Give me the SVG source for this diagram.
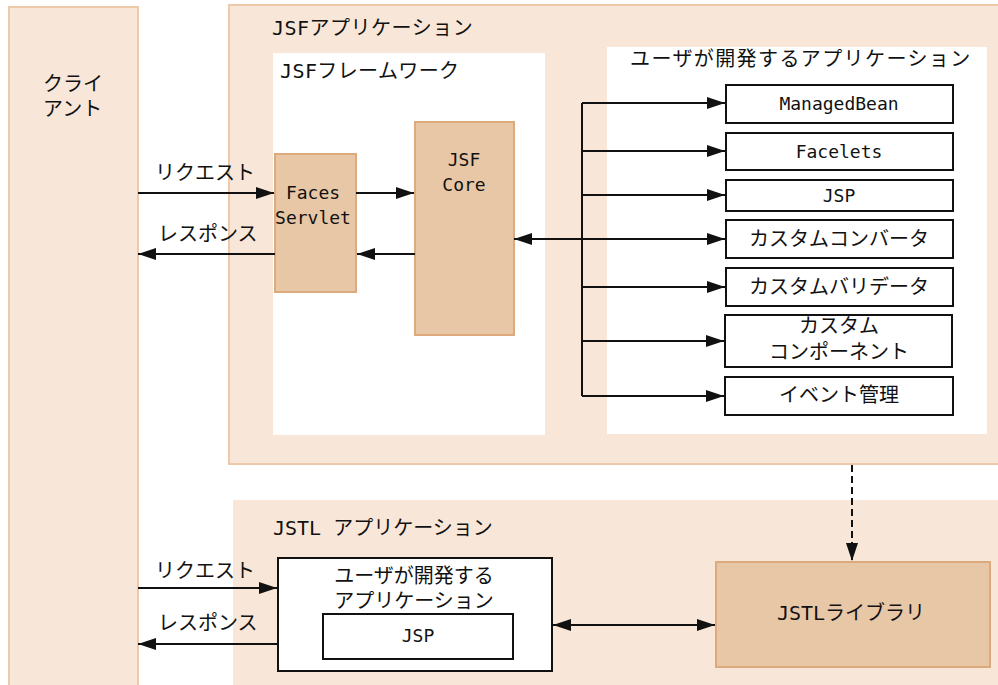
<svg xmlns="http://www.w3.org/2000/svg" width="998" height="685" viewBox="0 0 998 685">
<defs>
<style>
.area{fill:#f8e7d8;stroke:#ecc9a8;stroke-width:2}
.areaNs{fill:#f8e7d8;stroke:none}
.white{fill:#ffffff;stroke:none}
.dark{fill:#e8c7a7;stroke:#dcaa7c;stroke-width:2}
.box{fill:#ffffff;stroke:#111111;stroke-width:2}
.t{font-family:"DejaVu Sans Mono","Noto Sans CJK JP",monospace;font-size:20px;fill:#111111}
.l{font-family:"DejaVu Sans Mono","Noto Sans CJK JP",monospace;font-size:18px;fill:#111111}
.m{text-anchor:middle}
.c{fill:none;stroke:#111111;stroke-width:2}
.d{fill:none;stroke:#111111;stroke-width:2;stroke-dasharray:7 4}
</style>
<marker id="ah" markerUnits="userSpaceOnUse" markerWidth="18" markerHeight="12" refX="18" refY="6" orient="auto-start-reverse">
<path d="M0,0 L18,6 L0,12 z" fill="#111111"/>
</marker>
</defs>

<g id="client">
<rect class="area" x="9" y="7" width="129" height="690"/>
<text class="t" x="43" y="91">クライ</text>
<text class="t" x="43" y="116">アント</text>
</g>

<g id="jsf-application">
<rect class="area" x="229" y="5" width="780" height="459"/>
<text class="t" x="272" y="35" letter-spacing="0.5">JSFアプリケーション</text>
</g>

<g id="jsf-framework">
<rect class="white" x="273" y="53" width="272" height="382"/>
<text class="t" x="280" y="78" letter-spacing="0.4">JSFフレームワーク</text>
</g>

<g id="user-application">
<rect class="white" x="607" y="47" width="380" height="387"/>
<text class="t" x="630" y="66" letter-spacing="1.4">ユーザが開発するアプリケーション</text>
</g>

<g id="faces-servlet">
<rect class="dark" x="275" y="154" width="81" height="138"/>
<text class="l m" x="313" y="199">Faces</text>
<text class="l m" x="313" y="224">Servlet</text>
</g>

<g id="jsf-core">
<rect class="dark" x="415" y="122" width="99" height="213"/>
<text class="l m" x="464" y="166">JSF</text>
<text class="l m" x="464" y="191">Core</text>
</g>

<g id="managedbean">
<rect class="box" x="726" y="85" width="227" height="38"/>
<text class="l m" x="839" y="110">ManagedBean</text>
</g>
<g id="facelets">
<rect class="box" x="726" y="133" width="227" height="37"/>
<text class="l m" x="839" y="158">Facelets</text>
</g>
<g id="jsp">
<rect class="box" x="726" y="180" width="227" height="31"/>
<text class="l m" x="839" y="202">JSP</text>
</g>
<g id="custom-converter">
<rect class="box" x="726" y="220" width="227" height="38"/>
<text class="t m" x="839" y="246">カスタムコンバータ</text>
</g>
<g id="custom-validator">
<rect class="box" x="726" y="268" width="227" height="38"/>
<text class="t m" x="839" y="294">カスタムバリデータ</text>
</g>
<g id="custom-component">
<rect class="box" x="725" y="315" width="227" height="52"/>
<text class="t m" x="839" y="333">カスタム</text>
<text class="t m" x="839" y="359">コンポーネント</text>
</g>
<g id="event-management">
<rect class="box" x="725" y="377" width="228" height="38"/>
<text class="t m" x="839" y="402">イベント管理</text>
</g>

<g id="jstl-application">
<rect class="areaNs" x="233" y="500" width="780" height="200"/>
<text class="t" x="273" y="535">JSTL アプリケーション</text>
</g>

<g id="user-application-2">
<rect class="box" x="278" y="558" width="274" height="113"/>
<text class="t m" x="414" y="583">ユーザが開発する</text>
<text class="t m" x="414" y="608">アプリケーション</text>
</g>

<g id="jsp-2">
<rect class="box" x="323" y="614" width="190" height="45"/>
<text class="l m" x="418" y="642">JSP</text>
</g>

<g id="jstl-library">
<rect class="dark" x="716" y="562" width="274" height="105"/>
<text class="t m" x="851" y="620">JSTLライブラリ</text>
</g>

<g id="connectors">
<path class="c" d="M138,193 H274" marker-end="url(#ah)"/>
<text class="t" x="155" y="180">リクエスト</text>
<path class="c" d="M275,254 H138" marker-end="url(#ah)"/>
<text class="t" x="158" y="241">レスポンス</text>
<path class="c" d="M356,193 H414" marker-end="url(#ah)"/>
<path class="c" d="M415,254 H357" marker-end="url(#ah)"/>
<path class="c" d="M514,239 H725" marker-start="url(#ah)" marker-end="url(#ah)"/>
<path class="c" d="M582,103 V396"/>
<path class="c" d="M582,103 H725" marker-end="url(#ah)"/>
<path class="c" d="M582,151 H725" marker-end="url(#ah)"/>
<path class="c" d="M582,195 H725" marker-end="url(#ah)"/>
<path class="c" d="M582,287 H725" marker-end="url(#ah)"/>
<path class="c" d="M582,341 H724" marker-end="url(#ah)"/>
<path class="c" d="M582,396 H724" marker-end="url(#ah)"/>
<path class="d" d="M852,465 V561" marker-end="url(#ah)"/>
<path class="c" d="M138,588 H277" marker-end="url(#ah)"/>
<text class="t" x="155" y="578">リクエスト</text>
<path class="c" d="M278,644 H138" marker-end="url(#ah)"/>
<text class="t" x="158" y="630">レスポンス</text>
<path class="c" d="M553,625 H715" marker-start="url(#ah)" marker-end="url(#ah)"/>
</g>
</svg>
